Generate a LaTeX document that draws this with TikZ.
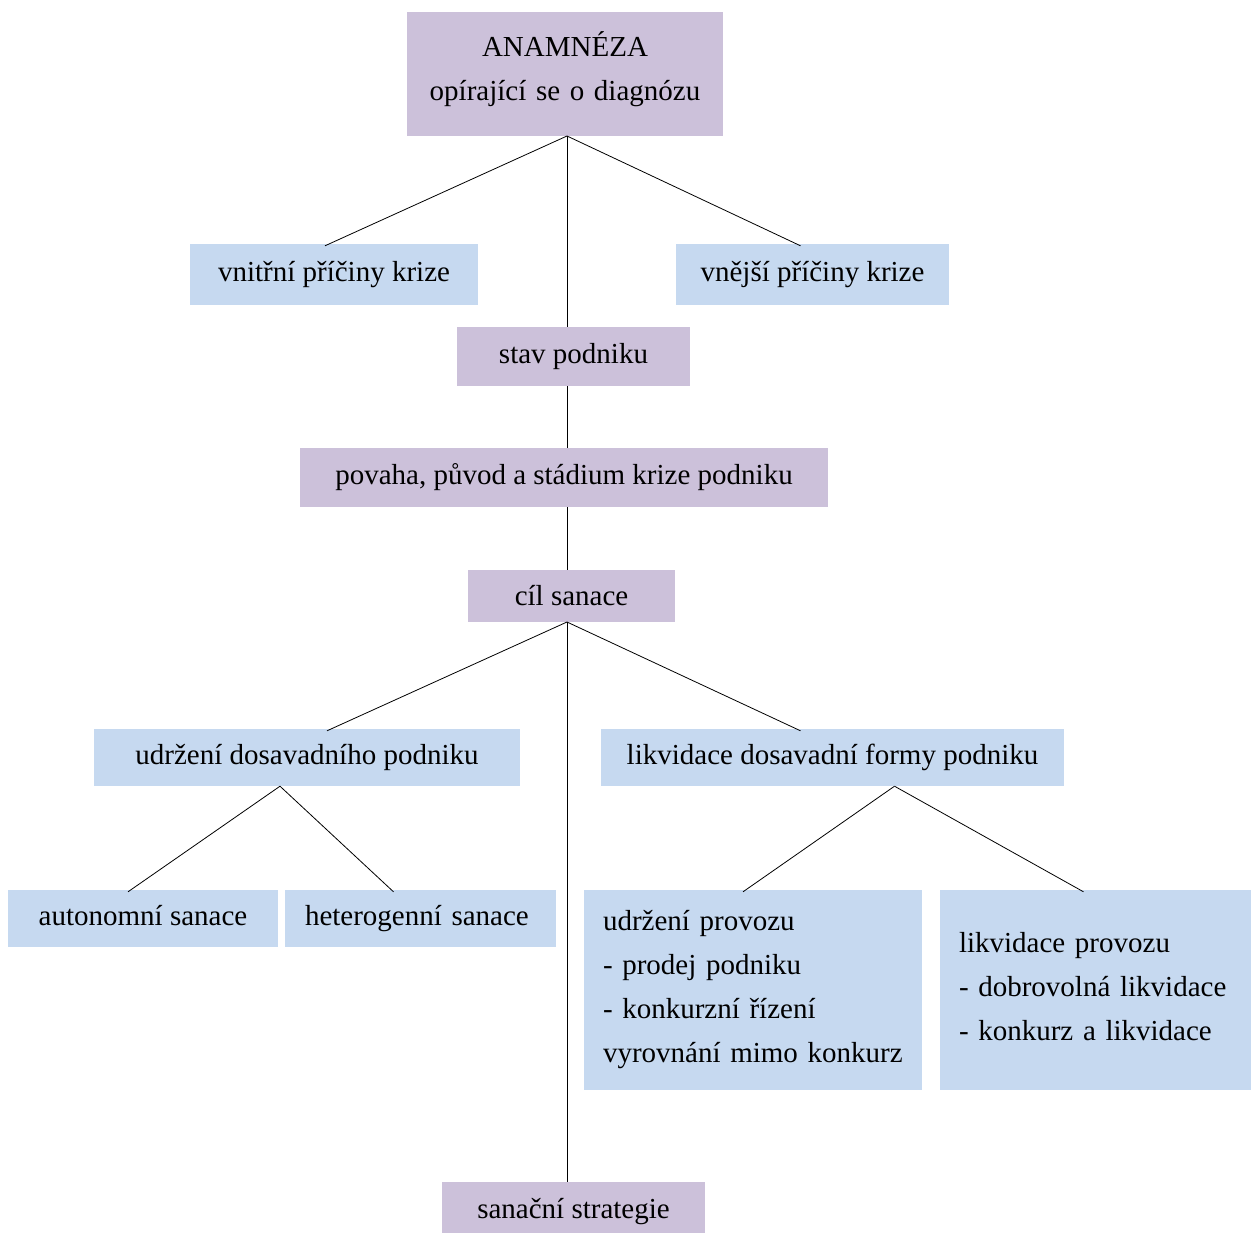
\documentclass[tikz,border=0pt]{standalone}
\usepackage{fontspec}
\setmainfont{Liberation Serif}
\definecolor{pfill}{RGB}{204,193,218}
\definecolor{bfill}{RGB}{198,217,240}
\begin{document}
\begin{tikzpicture}[x=1pt,y=-1pt,
  every node/.style={font=\fontsize{29}{44}\selectfont, inner sep=0pt, text=black},
  pbox/.style={fill=pfill, draw=none},
  bbox/.style={fill=bfill, draw=none},
  conn/.style={draw=black, line width=0.8pt}]
\useasboundingbox (0,0) rectangle (1252,1233);
% nodes
\node[pbox, minimum width=316pt, minimum height=124pt, text width=300pt, inner xsep=8pt, align=center, text height=20pt, text depth=54pt] (anam) at (565,74) {ANAMNÉZA\\opírající se o diagnózu};
\node[bbox, minimum width=288pt, minimum height=61pt] (vnitr) at (334,274.5) {vnitřní příčiny krize};
\node[bbox, minimum width=273pt, minimum height=61pt] (vnej) at (812.5,274.5) {vnější příčiny krize};
\node[pbox, minimum width=233pt, minimum height=59pt] (stav) at (573.5,356.5) {stav podniku};
\node[pbox, minimum width=528pt, minimum height=59pt] (povaha) at (564,477.5) {povaha, původ a stádium krize podniku};
\node[pbox, minimum width=207pt, minimum height=52pt] (cil) at (571.5,596) {cíl sanace};
\node[bbox, minimum width=426pt, minimum height=57pt] (udrz) at (307,757.5) {udržení dosavadního podniku};
\node[bbox, minimum width=463pt, minimum height=57pt] (likv) at (832.5,757.5) {likvidace dosavadní formy podniku};
\node[bbox, minimum width=270pt, minimum height=57pt, text depth=6pt] (auto) at (143,918.5) {autonomní sanace};
\node[bbox, minimum width=271pt, minimum height=57pt, text width=231pt, inner xsep=20pt, align=left, text depth=6pt] (hete) at (420.5,918.5) {heterogenní sanace};
\node[bbox, minimum height=200pt, text width=300pt, inner xsep=19pt, align=left] (uprov) at (753,990) {udržení provozu\\- prodej podniku\\- konkurzní řízení\\vyrovnání mimo konkurz};
\node[bbox, minimum height=200pt, text width=273pt, inner xsep=19pt, align=left, text height=20pt, text depth=96pt] (lprov) at (1095.5,990) {likvidace provozu\\- dobrovolná likvidace\\- konkurz a likvidace};
\node[pbox, minimum width=263pt, minimum height=51pt, text height=22pt, text depth=0pt] (sanac) at (573.5,1207.5) {sanační strategie};
% connectors
\coordinate (anamB) at (567,136);
\coordinate (cilB) at (567,622);
\draw[conn] (anamB) -- ([xshift=-9pt,yshift=-2pt]vnitr.north);
\draw[conn] (anamB) -- ([xshift=-12pt,yshift=-2pt]vnej.north);
\draw[conn] (anamB) -- (stav.north -| anamB);
\draw[conn] (stav.south -| anamB) -- (povaha.north -| anamB);
\draw[conn] (povaha.south -| anamB) -- (cil.north -| anamB);
\draw[conn] (cilB) -- ([xshift=20pt,yshift=-2pt]udrz.north);
\draw[conn] (cilB) -- ([xshift=-32pt,yshift=-2pt]likv.north);
\draw[conn] (cilB) -- (sanac.north -| cilB);
\draw[conn] ([xshift=-27pt]udrz.south) -- ([xshift=-15pt,yshift=-2pt]auto.north);
\draw[conn] ([xshift=-27pt]udrz.south) -- ([xshift=-27pt,yshift=-2pt]hete.north);
\draw[conn] ([xshift=62pt]likv.south) -- ([xshift=-10pt,yshift=-2pt]uprov.north);
\draw[conn] ([xshift=62pt]likv.south) -- ([xshift=-12pt,yshift=-2pt]lprov.north);
\end{tikzpicture}
\end{document}
